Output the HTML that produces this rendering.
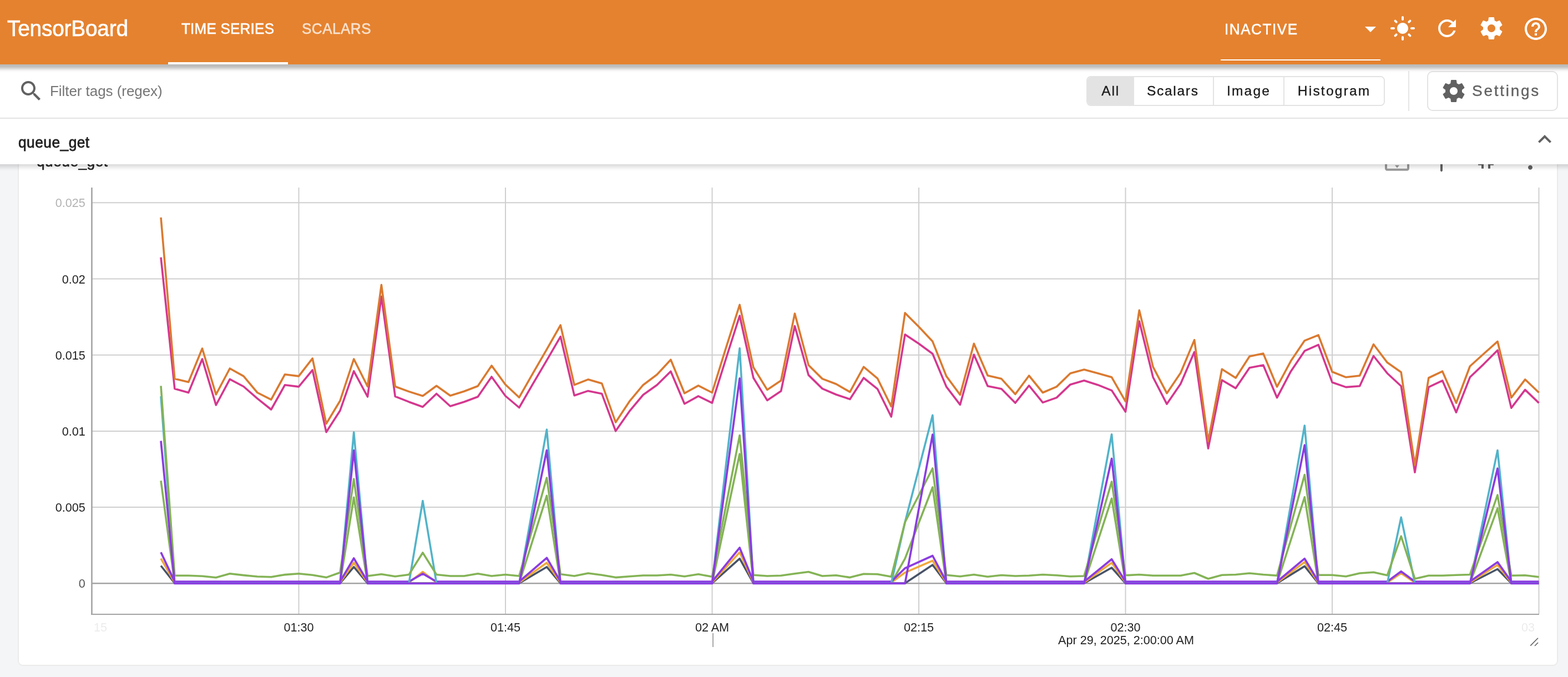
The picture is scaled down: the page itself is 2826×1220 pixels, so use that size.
<!DOCTYPE html>
<html><head><meta charset="utf-8"><title>TensorBoard</title>
<style>
*{box-sizing:border-box;margin:0;padding:0}
html,body{width:2826px;height:1220px;overflow:hidden;background:#f4f5f7;font-family:"Liberation Sans",Arial,sans-serif}
.a{position:absolute}
.t{position:absolute;white-space:nowrap;line-height:1}
#hdr{left:0;top:0;width:2826px;height:116px;background:#e5822f;z-index:5}
#hsh{left:-40px;top:0;width:2906px;height:116px;background:#e5822f;z-index:5;box-shadow:0 8px 6px rgba(0,0,0,.27)}
#tb{left:0;top:116px;width:2826px;height:98px;background:#fff;border-bottom:2px solid #e6e6e6;z-index:3}
#sec{left:0;top:214px;width:2826px;height:82px;background:#fff;z-index:4}
#ssh{left:-40px;top:214px;width:2906px;height:82px;background:#fff;z-index:4;box-shadow:0 5px 8px rgba(0,0,0,.16)}
#card{left:32px;top:250px;width:2776px;height:950px;background:#fff;border:2px solid #ebebeb;border-radius:9px;z-index:1}
.grp{left:1958px;top:137px;width:538px;height:54px;border:2px solid #e3e3e3;border-radius:8px;overflow:hidden;background:#fff}
.cell{position:absolute;top:0;height:50px;border-right:2px solid #e3e3e3}
svg{position:absolute;left:0;top:0;overflow:visible}
</style></head><body>
<div id="hsh" class="a"></div>
<div id="hdr" class="a">
<div class="t" style="left:13.0px;top:31.1px;font-size:40px;color:#fff;font-weight:400;letter-spacing:-0.2px;transform:scaleX(0.97);transform-origin:0 0;-webkit-text-stroke:0.7px #fff;">TensorBoard</div>
<div class="t" style="left:327.4px;top:37.8px;font-size:28px;color:#fff;font-weight:400;letter-spacing:0.22px;transform:scaleX(0.93);transform-origin:0 0;-webkit-text-stroke:0.6px #fff;">TIME SERIES</div>
<div class="t" style="left:543.6px;top:37.8px;font-size:28px;color:rgba(255,255,255,.72);font-weight:400;letter-spacing:0.533px;transform:scaleX(0.93);transform-origin:0 0;-webkit-text-stroke:0.6px rgba(255,255,255,.72);">SCALARS</div>
<div class="a" style="left:303px;top:112px;width:216px;height:4px;background:#fff"></div>
<div class="t" style="left:2207.0px;top:39.3px;font-size:28px;color:#fff;font-weight:400;letter-spacing:1.686px;transform:scaleX(0.93);transform-origin:0 0;-webkit-text-stroke:0.6px #fff;">INACTIVE</div>
<div class="a" style="left:2200px;top:106.5px;width:288px;height:2px;background:#fff"></div>
<svg class="ic" style="position:absolute;left:2446px;top:28px;" width="48" height="48" viewBox="0 0 24 24"><path fill="#fff" d="M7 10l5 5 5-5z"/></svg>
<svg class="ic" style="position:absolute;left:2504px;top:27px;" width="48" height="48" viewBox="0 0 24 24"><path fill="#fff" d="M12,7c-2.76,0-5,2.24-5,5s2.24,5,5,5s5-2.24,5-5S14.76,7,12,7L12,7z M2,13l2,0c0.55,0,1-0.45,1-1s-0.45-1-1-1l-2,0 c-0.55,0-1,0.45-1,1S1.45,13,2,13z M20,13l2,0c0.55,0,1-0.45,1-1s-0.45-1-1-1l-2,0c-0.55,0-1,0.45-1,1S19.45,13,20,13z M11,2v2 c0,0.55,0.45,1,1,1s1-0.45,1-1V2c0-0.55-0.45-1-1-1S11,1.450,11,2z M11,20v2c0,0.55,0.45,1,1,1s1-0.45,1-1v-2c0-0.55-0.45-1-1-1 C11.45,19,11,19.45,11,20z M5.99,4.58c-0.39-0.39-1.03-0.39-1.41,0c-0.39,0.39-0.39,1.03,0,1.41l1.06,1.06 c0.39,0.39,1.03,0.39,1.41,0s0.39-1.03,0-1.41L5.99,4.58z M18.36,16.95c-0.39-0.39-1.03-0.39-1.41,0c-0.39,0.39-0.39,1.03,0,1.41 l1.06,1.06c0.39,0.39,1.03,0.39,1.41,0c0.39-0.39,0.39-1.03,0-1.41L18.36,16.95z M19.42,5.99c0.39-0.39,0.39-1.03,0-1.41 c-0.39-0.39-1.03-0.39-1.41,0l-1.06,1.06c-0.39,0.39-0.39,1.03,0,1.41s1.03,0.39,1.41,0L19.42,5.99z M7.05,18.36 c0.39-0.39,0.39-1.03,0-1.41c-0.39-0.39-1.03-0.39-1.41,0l-1.06,1.06c-0.39,0.39-0.39,1.03,0,1.41s1.03,0.39,1.41,0L7.05,18.36z"/></svg>
<svg class="ic" style="position:absolute;left:2584px;top:27px;" width="48" height="48" viewBox="0 0 24 24"><path fill="#fff" d="M17.65 6.35C16.2 4.9 14.21 4 12 4c-4.42 0-7.99 3.58-7.99 8s3.57 8 7.99 8c3.73 0 6.84-2.55 7.73-6h-2.08c-.82 2.33-3.04 4-5.65 4-3.31 0-6-2.690-6-6s2.69-6 6-6c1.66 0 3.14.69 4.22 1.78L13 11h7V4l-2.35 2.35z"/></svg>
<svg class="ic" style="position:absolute;left:2664px;top:27px;" width="48" height="48" viewBox="0 0 24 24"><path fill="#fff" d="M19.43 12.98c.04-.32.07-.64.07-.98s-.03-.66-.07-.98l2.11-1.65c.19-.15.24-.42.12-.64l-2-3.46c-.12-.22-.39-.3-.61-.22l-2.49 1c-.52-.4-1.08-.73-1.69-.98l-.38-2.65C14.46 2.18 14.25 2 14 2h-4c-.25 0-.46.18-.49.42l-.38 2.65c-.61.25-1.17.59-1.69.98l-2.49-1c-.23-.09-.49 0-.61.22l-2 3.46c-.13.22-.07.49.12.64l2.11 1.65c-.04.32-.07.65-.07.98s.03.66.07.98l-2.11 1.65c-.19.15-.24.42-.12.64l2 3.46c.12.22.39.3.61.22l2.49-1c.52.4 1.08.73 1.69.98l.38 2.65c.03.24.24.42.49.42h4c.25 0 .46-.18.49-.42l.38-2.65c.61-.25 1.17-.59 1.69-.98l2.49 1c.23.09.49 0 .61-.22l2-3.46c.12-.22.07-.49-.12-.64l-2.11-1.65zM12 15.5c-1.93 0-3.5-1.57-3.5-3.5s1.57-3.5 3.5-3.5 3.5 1.57 3.5 3.5-1.57 3.5-3.5 3.5z"/></svg>
<svg class="ic" style="position:absolute;left:2744px;top:28px;" width="48" height="48" viewBox="0 0 24 24"><path fill="#fff" d="M11 18h2v-2h-2v2zm1-16C6.48 2 2 6.48 2 12s4.48 10 10 10 10-4.48 10-10S17.52 2 12 2zm0 18c-4.41 0-8-3.59-8-8s3.59-8 8-8 8 3.59 8 8-3.59 8-8 8zm0-14c-2.21 0-4 1.79-4 4h2c0-1.1.9-2 2-2s2 .9 2 2c0 2-3 1.75-3 5h2c0-2.25 3-2.5 3-5 0-2.21-1.79-4-4-4z"/></svg>
</div>
<div id="tb" class="a">
<svg class="ic" style="position:absolute;left:32px;top:24px;" width="48" height="48" viewBox="0 0 24 24"><path fill="#616161" d="M15.5 14h-.79l-.28-.27C15.41 12.59 16 11.11 16 9.5 16 5.91 13.09 3 9.5 3S3 5.91 3 9.5 5.910 16 9.5 16c1.61 0 3.09-.59 4.23-1.57l.27.28v.79l5 4.99L20.49 19l-4.99-5zm-6 0C7.01 14 5 11.99 5 9.5S7.01 5 9.5 5 14 7.01 14 9.5 11.99 14 9.5 14z"/></svg>
<div class="t" style="left:90.0px;top:35.0px;font-size:26px;color:#757575;font-weight:400;letter-spacing:-0.056px;">Filter tags (regex)</div>
<div class="a grp" style="top:21px"><div class="cell" style="left:0px;width:84px;background:#e3e3e3;"></div><div class="cell" style="left:84px;width:144px;background:#fff;"></div><div class="cell" style="left:228px;width:127px;background:#fff;"></div><div class="cell" style="left:355px;width:181px;background:#fff;border-right:none"></div></div>
<div class="t" style="left:1985.2px;top:35.6px;font-size:24.5px;color:#1a1a1a;font-weight:400;letter-spacing:1.85px;-webkit-text-stroke:0.35px #1a1a1a;">All</div>
<div class="t" style="left:2067.0px;top:35.6px;font-size:24.5px;color:#1a1a1a;font-weight:400;letter-spacing:1.7px;-webkit-text-stroke:0.35px #1a1a1a;">Scalars</div>
<div class="t" style="left:2211.0px;top:35.6px;font-size:24.5px;color:#1a1a1a;font-weight:400;letter-spacing:2.2px;-webkit-text-stroke:0.35px #1a1a1a;">Image</div>
<div class="t" style="left:2338.8px;top:35.6px;font-size:24.5px;color:#1a1a1a;font-weight:400;letter-spacing:2.225px;-webkit-text-stroke:0.35px #1a1a1a;">Histogram</div>
<div class="a" style="left:2538px;top:12px;width:2px;height:72px;background:#e6e6e6"></div>
<div class="a" style="left:2572px;top:12px;width:236px;height:72px;border:2px solid #e3e3e3;border-radius:10px"></div>
<svg class="ic" style="position:absolute;left:2596px;top:24px;" width="48" height="48" viewBox="0 0 24 24"><path fill="#616161" d="M19.43 12.98c.04-.32.07-.64.07-.98s-.03-.66-.07-.98l2.11-1.65c.19-.15.24-.42.12-.64l-2-3.46c-.12-.22-.39-.3-.61-.22l-2.49 1c-.52-.4-1.08-.73-1.69-.98l-.38-2.65C14.46 2.18 14.25 2 14 2h-4c-.25 0-.46.18-.49.42l-.38 2.65c-.61.25-1.17.59-1.69.98l-2.49-1c-.23-.09-.49 0-.61.22l-2 3.46c-.13.22-.07.49.12.64l2.11 1.65c-.04.32-.07.65-.07.98s.03.66.07.98l-2.11 1.65c-.19.15-.24.42-.12.64l2 3.46c.12.22.39.3.61.22l2.49-1c.52.4 1.08.73 1.69.98l.38 2.65c.03.24.24.42.49.42h4c.25 0 .46-.18.49-.42l.38-2.65c.61-.25 1.17-.59 1.69-.98l2.49 1c.23.09.49 0 .61-.22l2-3.46c.12-.22.07-.49-.12-.64l-2.11-1.65zM12 15.5c-1.93 0-3.5-1.57-3.5-3.5s1.57-3.5 3.5-3.5 3.5 1.57 3.5 3.5-1.57 3.5-3.5 3.5z"/></svg>
<div class="t" style="left:2653.0px;top:34.3px;font-size:28px;color:#616161;font-weight:400;letter-spacing:2.743px;-webkit-text-stroke:0.35px #616161;">Settings</div>
</div>
<div id="ssh" class="a"></div>
<div id="sec" class="a">
<div class="t" style="left:32.6px;top:29.3px;font-size:28px;color:#212121;font-weight:400;letter-spacing:0.5px;transform:scaleX(0.94);transform-origin:0 0;-webkit-text-stroke:0.8px #212121;">queue_get</div>
<svg class="ic" style="position:absolute;left:2760px;top:13px;" width="48" height="48" viewBox="0 0 24 24"><path fill="#616161" d="M12 8l-6 6 1.41 1.41L12 10.83l4.59 4.58L18 14z"/></svg>
</div>
<div id="card" class="a"></div>
<svg width="2826" height="1220" style="z-index:2" viewBox="0 0 2826 1220">
<g transform="translate(2494,265.7) scale(2)"><path fill="#9a9a9a" d="M12.01 5.5L10 8h4l-1.99-2.5zM18 10v4l2.5-1.99L18 10zM6 10l-2.5 2.01L6 14v-4zm8 6h-4l2.01 2.5L14 16zm7-13H3c-1.1 0-2 .9-2 2v14c0 1.1.9 2 2 2h18c1.1 0 2-.9 2-2V5c0-1.1-.9-2-2-2zm0 16.01H3V4.99h18v14.02z"/></g>
<g transform="translate(2574,265.7) scale(2)"><path fill="#616161" d="M16,9V4l1,0c0.55,0,1-0.45,1-1v0c0-0.55-0.45-1-1-1H7C6.45,2,6,2.45,6,3v0c0,0.55,0.45,1,1,1l1,0v5c0,1.66-1.34,3-3,3h0v2h5.97v7l1,1l1-1v-7H19v-2h0C17.34,12,16,10.66,16,9z"/></g>
<g transform="translate(2654,265.7) scale(2)"><path fill="#616161" d="M5 16h3v3h2v-5H5v2zm3-8H5v2h5V5H8v3zm6 11h2v-3h3v-2h-5v5zm2-11V5h-2v5h5V8h-3z"/></g>
<g transform="translate(2734,265.7) scale(2)"><path fill="#616161" d="M12 8c1.1 0 2-.9 2-2s-.9-2-2-2-2 .9-2 2 .9 2 2 2zm0 2c-1.1 0-2 .9-2 2s.9 2 2 2 2-.9 2-2-.9-2-2-2zm0 6c-1.1 0-2 .9-2 2s.9 2 2 2 2-.9 2-2-.9-2-2-2z"/></g>
<text x="66" y="300" font-size="28" fill="#212121" stroke="#212121" stroke-width="0.6" font-family="Liberation Sans, Arial, sans-serif" letter-spacing="0.5" transform="translate(66 0) scale(0.94 1) translate(-66 0)">queue_get</text>
<g stroke="#cfcfcf" stroke-width="2" fill="none"><line x1="166" x2="2774" y1="365.3" y2="365.3"/><line x1="166" x2="2774" y1="502.5" y2="502.5"/><line x1="166" x2="2774" y1="639.7" y2="639.7"/><line x1="166" x2="2774" y1="776.9" y2="776.9"/><line x1="166" x2="2774" y1="914.1" y2="914.1"/><line x1="538.5" x2="538.5" y1="338" y2="1106"/><line x1="911.0" x2="911.0" y1="338" y2="1106"/><line x1="1283.5" x2="1283.5" y1="338" y2="1106"/><line x1="1656.0" x2="1656.0" y1="338" y2="1106"/><line x1="2028.5" x2="2028.5" y1="338" y2="1106"/><line x1="2401.0" x2="2401.0" y1="338" y2="1106"/><line x1="2773.5" x2="2773.5" y1="338" y2="1106"/></g>
<line x1="165.45" x2="165.45" y1="338" y2="1108" stroke="#a3a3a3" stroke-width="2.6"/>
<line x1="164" x2="2774" y1="1107" y2="1107" stroke="#a3a3a3" stroke-width="2"/>
<line x1="166" x2="2774" y1="1051.2" y2="1051.2" stroke="#a3a3a3" stroke-width="2.4"/>
<line x1="1285" x2="1285" y1="1141" y2="1166" stroke="#9e9e9e" stroke-width="1.8"/>
<g fill="none" stroke-width="3.6" stroke-linejoin="round" stroke-linecap="butt">
<polyline points="290.0,1019.5 314.8,1051.0 339.7,1051.0 364.5,1051.0 389.3,1051.0 414.2,1051.0 439.0,1051.0 463.8,1051.0 488.7,1051.0 513.5,1051.0 538.4,1051.0 563.2,1051.0 588.0,1051.0 612.9,1051.0 637.7,1021.7 662.5,1051.0 687.4,1051.0 712.2,1051.0 737.0,1051.0 761.9,1051.0 786.7,1051.0 811.5,1051.0 836.4,1051.0 861.2,1051.0 886.0,1051.0 910.9,1051.0 935.7,1051.0 985.4,1021.7 1010.2,1051.0 1035.1,1051.0 1059.9,1051.0 1084.7,1051.0 1109.6,1051.0 1134.4,1051.0 1159.2,1051.0 1184.1,1051.0 1208.9,1051.0 1233.7,1051.0 1258.6,1051.0 1283.4,1051.0 1333.1,1006.6 1357.9,1051.0 1382.7,1051.0 1407.6,1051.0 1432.4,1051.0 1457.2,1051.0 1482.1,1051.0 1506.9,1051.0 1531.8,1051.0 1556.6,1051.0 1581.4,1051.0 1606.3,1051.0 1631.1,1051.0 1680.8,1018.0 1705.6,1051.0 1730.4,1051.0 1755.3,1051.0 1780.1,1051.0 1804.9,1051.0 1829.8,1051.0 1854.6,1051.0 1879.4,1051.0 1904.3,1051.0 1929.1,1051.0 1953.9,1051.0 2003.6,1023.0 2028.5,1051.0 2053.3,1051.0 2078.1,1051.0 2103.0,1051.0 2127.8,1051.0 2152.6,1051.0 2177.5,1051.0 2202.3,1051.0 2227.1,1051.0 2252.0,1051.0 2276.8,1051.0 2301.6,1051.0 2351.3,1020.4 2376.1,1051.0 2401.0,1051.0 2425.8,1051.0 2450.6,1051.0 2475.5,1051.0 2500.3,1051.0 2525.2,1051.0 2550.0,1051.0 2574.8,1051.0 2599.7,1051.0 2624.5,1051.0 2649.3,1051.0 2699.0,1025.5 2723.8,1051.0 2748.7,1051.0 2773.5,1051.0" stroke="#465267"/>
<polyline points="290.0,1006.5 314.8,1049.8 339.7,1049.8 364.5,1049.8 389.3,1049.8 414.2,1049.8 439.0,1049.8 463.8,1049.8 488.7,1049.8 513.5,1049.8 538.4,1049.8 563.2,1049.8 588.0,1049.8 612.9,1049.8 637.7,1014.0 662.5,1049.8 687.4,1049.8 712.2,1049.8 737.0,1049.8 761.9,1030.5 786.7,1049.8 811.5,1049.8 836.4,1049.8 861.2,1049.8 886.0,1049.8 910.9,1049.8 935.7,1049.8 985.4,1014.1 1010.2,1049.8 1035.1,1049.8 1059.9,1049.8 1084.7,1049.8 1109.6,1049.8 1134.4,1049.8 1159.2,1049.8 1184.1,1049.8 1208.9,1049.8 1233.7,1049.8 1258.6,1049.8 1283.4,1049.8 1333.1,995.3 1357.9,1049.8 1382.7,1049.8 1407.6,1049.8 1432.4,1049.8 1457.2,1049.8 1482.1,1049.8 1506.9,1049.8 1531.8,1049.8 1556.6,1049.8 1581.4,1049.8 1606.3,1049.8 1631.1,1031.8 1680.8,1010.4 1705.6,1049.8 1730.4,1049.8 1755.3,1049.8 1780.1,1049.8 1804.9,1049.8 1829.8,1049.8 1854.6,1049.8 1879.4,1049.8 1904.3,1049.8 1929.1,1049.8 1953.9,1049.8 2003.6,1014.1 2028.5,1049.8 2053.3,1049.8 2078.1,1049.8 2103.0,1049.8 2127.8,1049.8 2152.6,1049.8 2177.5,1049.8 2202.3,1049.8 2227.1,1049.8 2252.0,1049.8 2276.8,1049.8 2301.6,1049.8 2351.3,1012.9 2376.1,1049.8 2401.0,1049.8 2425.8,1049.8 2450.6,1049.8 2475.5,1049.8 2500.3,1049.8 2525.2,1033.0 2550.0,1049.8 2574.8,1049.8 2599.7,1049.8 2624.5,1049.8 2649.3,1049.8 2699.0,1017.9 2723.8,1049.8 2748.7,1049.8 2773.5,1049.8" stroke="#f0a83a"/>
<polyline points="290.0,866.3 314.8,1051.0 339.7,1051.0 364.5,1051.0 389.3,1051.0 414.2,1051.0 439.0,1051.0 463.8,1051.0 488.7,1051.0 513.5,1051.0 538.4,1051.0 563.2,1051.0 588.0,1051.0 612.9,1051.0 637.7,896.3 662.5,1051.0 687.4,1051.0 712.2,1051.0 737.0,1051.0 761.9,1051.0 786.7,1051.0 811.5,1051.0 836.4,1051.0 861.2,1051.0 886.0,1051.0 910.9,1051.0 935.7,1051.0 985.4,893.3 1010.2,1051.0 1035.1,1051.0 1059.9,1051.0 1084.7,1051.0 1109.6,1051.0 1134.4,1051.0 1159.2,1051.0 1184.1,1051.0 1208.9,1051.0 1233.7,1051.0 1258.6,1051.0 1283.4,1051.0 1333.1,818.0 1357.9,1051.0 1382.7,1051.0 1407.6,1051.0 1432.4,1051.0 1457.2,1051.0 1482.1,1051.0 1506.9,1051.0 1531.8,1051.0 1556.6,1051.0 1581.4,1051.0 1606.3,1051.0 1631.1,1006.6 1680.8,878.0 1705.6,1051.0 1730.4,1051.0 1755.3,1051.0 1780.1,1051.0 1804.9,1051.0 1829.8,1051.0 1854.6,1051.0 1879.4,1051.0 1904.3,1051.0 1929.1,1051.0 1953.9,1051.0 2003.6,898.3 2028.5,1051.0 2053.3,1051.0 2078.1,1051.0 2103.0,1051.0 2127.8,1051.0 2152.6,1051.0 2177.5,1051.0 2202.3,1051.0 2227.1,1051.0 2252.0,1051.0 2276.8,1051.0 2301.6,1051.0 2351.3,895.8 2376.1,1051.0 2401.0,1051.0 2425.8,1051.0 2450.6,1051.0 2475.5,1051.0 2500.3,1051.0 2525.2,1051.0 2550.0,1051.0 2574.8,1051.0 2599.7,1051.0 2624.5,1051.0 2649.3,1051.0 2699.0,916.0 2723.8,1051.0 2748.7,1051.0 2773.5,1051.0" stroke="#84b356"/>
<polyline points="290.0,995.2 314.8,1048.1 339.7,1048.1 364.5,1048.1 389.3,1048.1 414.2,1048.1 439.0,1048.1 463.8,1048.1 488.7,1048.1 513.5,1048.1 538.4,1048.1 563.2,1048.1 588.0,1048.1 612.9,1048.1 637.7,1006.0 662.5,1048.1 687.4,1048.1 712.2,1048.1 737.0,1048.1 761.9,1033.8 786.7,1048.1 811.5,1048.1 836.4,1048.1 861.2,1048.1 886.0,1048.1 910.9,1048.1 935.7,1048.1 985.4,1005.3 1010.2,1048.1 1035.1,1048.1 1059.9,1048.1 1084.7,1048.1 1109.6,1048.1 1134.4,1048.1 1159.2,1048.1 1184.1,1048.1 1208.9,1048.1 1233.7,1048.1 1258.6,1048.1 1283.4,1048.1 1333.1,987.0 1357.9,1048.1 1382.7,1048.1 1407.6,1048.1 1432.4,1048.1 1457.2,1048.1 1482.1,1048.1 1506.9,1048.1 1531.8,1048.1 1556.6,1048.1 1581.4,1048.1 1606.3,1048.1 1631.1,1024.0 1680.8,1001.5 1705.6,1048.1 1730.4,1048.1 1755.3,1048.1 1780.1,1048.1 1804.9,1048.1 1829.8,1048.1 1854.6,1048.1 1879.4,1048.1 1904.3,1048.1 1929.1,1048.1 1953.9,1048.1 2003.6,1007.8 2028.5,1048.1 2053.3,1048.1 2078.1,1048.1 2103.0,1048.1 2127.8,1048.1 2152.6,1048.1 2177.5,1048.1 2202.3,1048.1 2227.1,1048.1 2252.0,1048.1 2276.8,1048.1 2301.6,1048.1 2351.3,1006.6 2376.1,1048.1 2401.0,1048.1 2425.8,1048.1 2450.6,1048.1 2475.5,1048.1 2500.3,1048.1 2525.2,1029.7 2550.0,1048.1 2574.8,1048.1 2599.7,1048.1 2624.5,1048.1 2649.3,1048.1 2699.0,1012.9 2723.8,1048.1 2748.7,1048.1 2773.5,1048.1" stroke="#8b3ce0" stroke-width="3.7"/>
<polyline points="290.0,714.2 314.8,1051.0 339.7,1051.0 364.5,1051.0 389.3,1051.0 414.2,1051.0 439.0,1051.0 463.8,1051.0 488.7,1051.0 513.5,1051.0 538.4,1051.0 563.2,1051.0 588.0,1051.0 612.9,1051.0 637.7,779.0 662.5,1051.0 687.4,1051.0 712.2,1051.0 737.0,1051.0 761.9,902.6 786.7,1051.0 811.5,1051.0 836.4,1051.0 861.2,1051.0 886.0,1051.0 910.9,1051.0 935.7,1051.0 985.4,774.0 1010.2,1051.0 1035.1,1051.0 1059.9,1051.0 1084.7,1051.0 1109.6,1051.0 1134.4,1051.0 1159.2,1051.0 1184.1,1051.0 1208.9,1051.0 1233.7,1051.0 1258.6,1051.0 1283.4,1051.0 1333.1,627.6 1357.9,1051.0 1382.7,1051.0 1407.6,1051.0 1432.4,1051.0 1457.2,1051.0 1482.1,1051.0 1506.9,1051.0 1531.8,1051.0 1556.6,1051.0 1581.4,1051.0 1606.3,1051.0 1631.1,941.0 1680.8,748.3 1705.6,1051.0 1730.4,1051.0 1755.3,1051.0 1780.1,1051.0 1804.9,1051.0 1829.8,1051.0 1854.6,1051.0 1879.4,1051.0 1904.3,1051.0 1929.1,1051.0 1953.9,1051.0 2003.6,782.7 2028.5,1051.0 2053.3,1051.0 2078.1,1051.0 2103.0,1051.0 2127.8,1051.0 2152.6,1051.0 2177.5,1051.0 2202.3,1051.0 2227.1,1051.0 2252.0,1051.0 2276.8,1051.0 2301.6,1051.0 2351.3,766.9 2376.1,1051.0 2401.0,1051.0 2425.8,1051.0 2450.6,1051.0 2475.5,1051.0 2500.3,1051.0 2525.2,932.3 2550.0,1051.0 2574.8,1051.0 2599.7,1051.0 2624.5,1051.0 2649.3,1051.0 2699.0,811.5 2723.8,1051.0 2748.7,1051.0 2773.5,1051.0" stroke="#52b3c9"/>
<polyline points="290.0,695.4 314.8,1037.3 339.7,1037.3 364.5,1038.3 389.3,1040.7 414.2,1033.8 439.0,1036.6 463.8,1039.0 488.7,1039.7 513.5,1035.6 538.4,1033.8 563.2,1036.2 588.0,1040.6 612.9,1031.8 637.7,863.0 662.5,1038.0 687.4,1034.8 712.2,1038.8 737.0,1035.5 761.9,996.0 786.7,1035.5 811.5,1038.0 836.4,1038.0 861.2,1033.8 886.0,1038.0 910.9,1035.5 935.7,1038.0 985.4,861.0 1010.2,1034.8 1035.1,1038.0 1059.9,1033.0 1084.7,1036.3 1109.6,1040.6 1134.4,1038.8 1159.2,1037.0 1184.1,1037.0 1208.9,1035.5 1233.7,1038.8 1258.6,1034.8 1283.4,1039.3 1333.1,784.5 1357.9,1036.3 1382.7,1038.0 1407.6,1037.3 1432.4,1033.8 1457.2,1030.5 1482.1,1038.0 1506.9,1036.8 1531.8,1040.6 1556.6,1034.3 1581.4,1034.8 1606.3,1039.3 1631.1,941.0 1680.8,844.0 1705.6,1036.3 1730.4,1038.8 1755.3,1035.5 1780.1,1039.3 1804.9,1036.5 1829.8,1038.0 1854.6,1037.3 1879.4,1035.5 1904.3,1036.8 1929.1,1038.8 1953.9,1038.0 2003.6,868.0 2028.5,1036.8 2053.3,1035.5 2078.1,1037.3 2103.0,1037.3 2127.8,1037.3 2152.6,1032.5 2177.5,1043.0 2202.3,1036.3 2227.1,1035.5 2252.0,1033.0 2276.8,1035.5 2301.6,1037.3 2351.3,855.5 2376.1,1036.3 2401.0,1036.3 2425.8,1038.8 2450.6,1033.0 2475.5,1031.3 2500.3,1036.8 2525.2,966.3 2550.0,1043.0 2574.8,1037.3 2599.7,1037.3 2624.5,1036.3 2649.3,1035.5 2699.0,892.0 2723.8,1037.3 2748.7,1036.8 2773.5,1039.8" stroke="#84b356"/>
<polyline points="290.0,794.5 314.8,1051.4 339.7,1051.4 364.5,1051.4 389.3,1051.4 414.2,1051.4 439.0,1051.4 463.8,1051.4 488.7,1051.4 513.5,1051.4 538.4,1051.4 563.2,1051.4 588.0,1051.4 612.9,1051.4 637.7,811.5 662.5,1051.4 687.4,1051.4 712.2,1051.4 737.0,1051.4 761.9,1051.4 786.7,1051.4 811.5,1051.4 836.4,1051.4 861.2,1051.4 886.0,1051.4 910.9,1051.4 935.7,1051.4 985.4,811.5 1010.2,1051.4 1035.1,1051.4 1059.9,1051.4 1084.7,1051.4 1109.6,1051.4 1134.4,1051.4 1159.2,1051.4 1184.1,1051.4 1208.9,1051.4 1233.7,1051.4 1258.6,1051.4 1283.4,1051.4 1333.1,681.8 1357.9,1051.4 1382.7,1051.4 1407.6,1051.4 1432.4,1051.4 1457.2,1051.4 1482.1,1051.4 1506.9,1051.4 1531.8,1051.4 1556.6,1051.4 1581.4,1051.4 1606.3,1051.4 1631.1,1051.4 1680.8,783.0 1705.6,1051.4 1730.4,1051.4 1755.3,1051.4 1780.1,1051.4 1804.9,1051.4 1829.8,1051.4 1854.6,1051.4 1879.4,1051.4 1904.3,1051.4 1929.1,1051.4 1953.9,1051.4 2003.6,826.5 2028.5,1051.4 2053.3,1051.4 2078.1,1051.4 2103.0,1051.4 2127.8,1051.4 2152.6,1051.4 2177.5,1051.4 2202.3,1051.4 2227.1,1051.4 2252.0,1051.4 2276.8,1051.4 2301.6,1051.4 2351.3,802.0 2376.1,1051.4 2401.0,1051.4 2425.8,1051.4 2450.6,1051.4 2475.5,1051.4 2500.3,1051.4 2525.2,1051.4 2550.0,1051.4 2574.8,1051.4 2599.7,1051.4 2624.5,1051.4 2649.3,1051.4 2699.0,844.2 2723.8,1051.4 2748.7,1051.4 2773.5,1051.4" stroke="#8b3ce0" stroke-width="3.7"/>
<polyline points="290.0,463.8 314.8,700.4 339.7,707.6 364.5,647.0 389.3,730.0 414.2,683.4 439.0,696.5 463.8,718.2 488.7,738.0 513.5,693.7 538.4,696.9 563.2,666.8 588.0,778.7 612.9,740.0 637.7,668.8 662.5,715.0 687.4,534.4 712.2,714.3 737.0,724.2 761.9,733.3 786.7,709.5 811.5,732.0 836.4,724.2 861.2,715.0 886.0,679.0 910.9,713.5 935.7,734.5 960.5,691.7 985.4,649.4 1010.2,606.6 1035.1,712.7 1059.9,704.4 1084.7,709.5 1109.6,776.8 1134.4,741.2 1159.2,711.5 1184.1,693.7 1208.9,669.2 1233.7,727.7 1258.6,713.9 1283.4,726.1 1308.2,647.0 1333.1,569.0 1357.9,681.0 1382.7,721.4 1407.6,704.8 1432.4,587.6 1457.2,675.9 1482.1,700.4 1506.9,711.0 1531.8,719.4 1556.6,681.0 1581.4,700.8 1606.3,751.0 1631.1,602.7 1655.9,619.3 1680.8,637.5 1705.6,696.9 1730.4,729.3 1755.3,639.0 1780.1,695.7 1804.9,700.8 1829.8,726.1 1854.6,694.9 1879.4,725.4 1904.3,716.6 1929.1,692.9 1953.9,685.8 1978.8,693.7 2003.6,703.6 2028.5,742.0 2053.3,578.9 2078.1,679.8 2103.0,728.1 2127.8,691.7 2152.6,634.3 2177.5,808.1 2202.3,685.0 2227.1,699.6 2252.0,662.8 2276.8,658.0 2301.6,716.7 2326.5,669.2 2351.3,632.4 2376.1,621.3 2401.0,689.0 2425.8,697.6 2450.6,695.7 2475.5,641.5 2500.3,672.7 2525.2,695.7 2550.0,851.1 2574.8,697.6 2599.7,685.8 2624.5,743.2 2649.3,679.8 2674.2,656.1 2699.0,631.2 2723.8,735.2 2748.7,702.4 2773.5,726.1" stroke="#d4378f"/>
<polyline points="290.0,391.8 314.8,682.6 339.7,688.6 364.5,628.0 389.3,711.0 414.2,664.0 439.0,677.9 463.8,707.5 488.7,720.2 513.5,674.7 538.4,677.9 563.2,645.8 588.0,763.6 612.9,722.2 637.7,647.0 662.5,696.5 687.4,513.4 712.2,696.5 737.0,705.6 761.9,713.5 786.7,695.3 811.5,713.0 836.4,705.2 861.2,695.7 886.0,658.9 910.9,693.0 935.7,716.2 960.5,672.7 985.4,629.6 1010.2,586.0 1035.1,693.7 1059.9,683.8 1084.7,691.0 1109.6,761.0 1134.4,723.4 1159.2,693.7 1184.1,675.0 1208.9,648.2 1233.7,708.7 1258.6,694.9 1283.4,707.5 1308.2,627.6 1333.1,549.3 1357.9,662.0 1382.7,702.4 1407.6,685.8 1432.4,565.0 1457.2,658.0 1482.1,682.6 1506.9,692.0 1531.8,706.4 1556.6,661.2 1581.4,681.8 1606.3,732.5 1631.1,563.9 1655.9,588.8 1680.8,615.3 1705.6,677.9 1730.4,711.5 1755.3,619.3 1780.1,676.7 1804.9,682.6 1829.8,710.3 1854.6,677.0 1879.4,707.5 1904.3,696.9 1929.1,672.7 1953.9,666.0 1978.8,672.7 2003.6,679.8 2028.5,723.4 2053.3,559.1 2078.1,661.2 2103.0,708.7 2127.8,672.0 2152.6,612.6 2177.5,795.2 2202.3,665.2 2227.1,681.0 2252.0,642.2 2276.8,637.1 2301.6,697.0 2326.5,650.6 2351.3,613.8 2376.1,603.9 2401.0,670.0 2425.8,679.8 2450.6,677.0 2475.5,620.5 2500.3,653.3 2525.2,670.7 2550.0,838.3 2574.8,681.0 2599.7,669.2 2624.5,726.1 2649.3,660.0 2674.2,637.5 2699.0,615.3 2723.8,716.6 2748.7,683.8 2773.5,707.5" stroke="#da7a30"/>
</g>
<g font-family="Liberation Sans, Arial, sans-serif" font-size="21.6" fill="#212121"><text x="153.8" y="373.3" fill="#b3b3b3" text-anchor="end">0.025</text><text x="153.8" y="510.5" fill="#212121" text-anchor="end">0.02</text><text x="153.8" y="647.7" fill="#212121" text-anchor="end">0.015</text><text x="153.8" y="784.9" fill="#212121" text-anchor="end">0.01</text><text x="153.8" y="922.1" fill="#212121" text-anchor="end">0.005</text><text x="153.8" y="1058.6" fill="#555555" text-anchor="end">0</text><text x="538.5" y="1137.7" text-anchor="middle">01:30</text><text x="911.0" y="1137.7" text-anchor="middle">01:45</text><text x="1283.5" y="1137.7" text-anchor="middle">02 AM</text><text x="1656.0" y="1137.7" text-anchor="middle">02:15</text><text x="2028.5" y="1137.7" text-anchor="middle">02:30</text><text x="2401.0" y="1137.7" text-anchor="middle">02:45</text></g>
<g font-family="Liberation Sans, Arial, sans-serif" font-size="21.6">
<text x="2029.5" y="1161" text-anchor="middle" fill="#212121">Apr 29, 2025, 2:00:00 AM</text>
<text x="169" y="1137.7" fill="#ececec">15</text>
<text x="2742" y="1137.7" fill="#ececec">03</text>
</g>
<g stroke="#616161" stroke-width="1.6"><line x1="2758.3" y1="1163.6" x2="2772" y2="1149.8"/><line x1="2766" y1="1164" x2="2772" y2="1158"/></g>
</svg>
</body></html>
